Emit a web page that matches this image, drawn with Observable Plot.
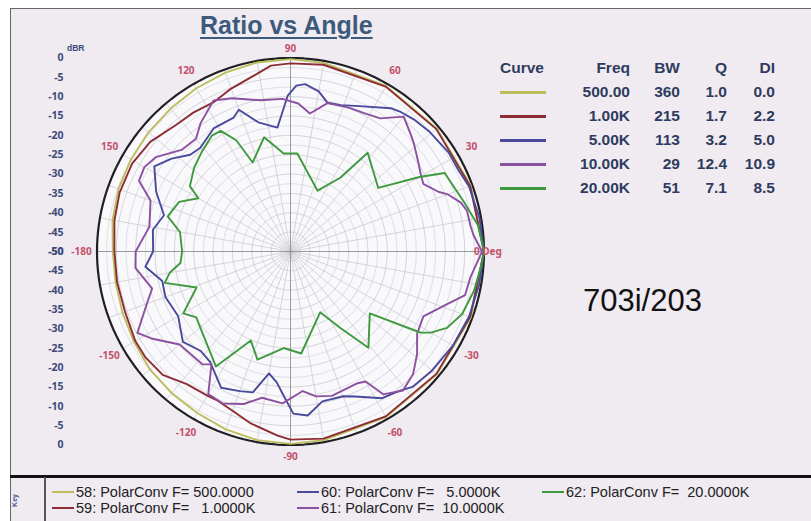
<!DOCTYPE html>
<html><head><meta charset="utf-8">
<script src="https://cdn.jsdelivr.net/npm/d3@7"></script>
<script src="https://cdn.jsdelivr.net/npm/@observablehq/plot@0.6"></script>
<style>
body{margin:0;background:#fff;font-family:"Liberation Sans",Arial,sans-serif;}
#wrap{position:relative;width:811px;height:521px;overflow:hidden;background:#fff}
.abs{position:absolute;white-space:pre}
</style></head><body>
<div id="wrap">
  <div class="abs" style="left:10px;top:8px;width:801px;height:513px;background:#efebf1;border-left:1.5px solid #666;border-top:1.5px solid #666;box-sizing:border-box"></div>
  <div id="chart" class="abs" style="left:0;top:0"></div>
  <div id="overlay"></div>
</div>
<script>
// ---------- data ----------
const angleLabelValues = [90, 60, 30, 0, -30, -60, -90, -120, -150, -180, 150, 120];
const angleLabelText   = ["90","60","30","0 Deg","-30","-60","-90","-120","-150","-180","150","120"];
const dbTicks = [0, -5, -10, -15, -20, -25, -30, -35, -40, -45, -50];

const curveFreq   = ["500.00", "1.00K", "5.00K", "10.00K", "20.00K"];
const curveBW     = ["360", "215", "113", "29", "51"];
const curveQ      = ["1.0", "1.7", "3.2", "12.4", "7.1"];
const curveDI     = ["0.0", "2.2", "5.0", "10.9", "8.5"];
const curveColors = ["#bdbd5e", "#8c2d36", "#4a4a9c", "#8c50a0", "#3f9a3f"];
const keyLabels = [
  "58: PolarConv F= 500.0000",
  "59: PolarConv F=   1.0000K",
  "60: PolarConv F=   5.0000K",
  "61: PolarConv F=  10.0000K",
  "62: PolarConv F=  20.0000K"
];

// 500 Hz
const ang500 = [-180,-170,-160,-150,-140,-130,-120,-110,-100,-90,-80,-60,-40,-20,0,20,40,60,80,90,100,110,120,130,140,150,160,170,180];
const db500  = [-4.1,-4.1,-3.8,-3.3,-2.6,-2.2,-1.8,-1.1,-0.5,-0.3,-0.5,-0.6,-0.6,-0.4,0,-0.4,-0.6,-0.6,-0.5,-0.3,-0.4,-0.8,-1.3,-1.8,-2.1,-2.4,-2.7,-3.3,-4.1];
// 1 kHz
const ang1k = [-180,-170,-160,-150,-144,-136,-128,-120,-116,-110,-103,-94,-90,-80,-60,-40,-20,0,20,40,60,80,90,96,103,110,117,125,132,142,151,161,170,180];
const db1k  = [-4.5,-4.5,-4.5,-3.7,-3.6,-4.1,-6.5,-7.0,-7.1,-6.2,-4.4,-2.3,-1.4,-0.9,-0.8,-0.8,-0.6,0,-0.6,-0.8,-0.8,-1.0,-1.4,-1.7,-3.9,-5.2,-6.6,-6.2,-5.9,-4.0,-3.2,-3.3,-3.8,-4.5];
// 5 kHz
const ang5k = [-180,-174,-167,-160,-150,-140,-132,-126,-117,-110,-105,-100,-96,-93,-89,-84,-78,-70,-66,-58,-52,-48,-40,-30,-20,-10,0,10,20,26,32,41,47,52,55,66,71,76,80,85,88,91,96,104,110,113,122,131,136,142,148,156,164,171,180];
const db5k  = [-14.5,-12.3,-16,-15.6,-16.5,-13.7,-15.4,-14.7,-10.5,-11.6,-12.3,-18,-16,-13,-8.1,-7.4,-10.4,-10.2,-9,-5.3,-4.3,-2.9,-2.2,-1.5,-0.9,-0.5,0,-0.4,-0.9,-1.8,-1.8,-2.6,-3.3,-4.1,-4.8,-8.8,-10,-10.4,-8,-6.6,-7.1,-9.7,-17.8,-15.6,-11,-12.4,-12.5,-14.5,-14,-11,-8.5,-12,-16,-14,-14.5];
// 10 kHz
const ang10k = [-180,-174,-165,-160,-152,-148,-140,-128,-125,-120,-114,-107,-101,-93,-85,-80,-74,-63,-60,-57,-51,-45,-39,-33,-26,-19,-14,-8,0,5,8,13,16,20,22,27,31,35,41,44,50,56,62,68,76,82,87,93,101,111,117,125,130,137,145,150,155,160,170,180];
const db10k  = [-10,-9.7,-13,-10.5,-5.2,-7.6,-12.6,-13,-14.4,-7.5,-7,-8.8,-11.5,-10.7,-13.8,-12,-11.2,-11.8,-11.2,-6,-3.8,-5.2,-7.9,-11,-11.8,-7.6,-3.5,-3,-0.5,-2.5,-3,-3.2,-4.2,-6.8,-8.8,-11.5,-10.8,-9.7,-7.7,-6.7,-4.5,-8.5,-9.5,-9.9,-10.5,-14,-11.7,-10.5,-10.2,-7.6,-6.2,-9.5,-12,-11.5,-7.5,-6.4,-6.8,-11.5,-13,-10];
// 20 kHz
const ang20k = [-180,-174,-170,-166,-159,-150,-145,-141,-123,-114,-107,-94,-84,-64,-57,-51,-38,-32,-30,-26,-20,-12,-5,0,8,16,27,30,36,52,56,66,86,94,103,113,116,120,124,132,139,147,150,156,164,170,180];
const db20k  = [-22,-21.4,-18.3,-16.5,-24,-18,-20.3,-19.7,-14.6,-24.8,-20.8,-25,-23.5,-32.5,-26.5,-18,-24,-10.5,-8.1,-5,-2.8,-1.5,-0.7,0,-1.1,-3.4,-5.3,-11.5,-22,-17.6,-27,-32.8,-24.6,-24.6,-19.7,-25,-18,-14,-13.8,-15.6,-17,-19,-22.5,-18.5,-17,-21,-22];

const curveAngles = [ang500, ang1k, ang5k, ang10k, ang20k];
const curveDbs    = [db500, db1k, db5k, db10k, db20k];

// ---------- geometry helpers (dB -> radius, -50 dB at centre) ----------
const rad = d => d + 50;
const px = (a, r) => r * Math.cos(a * Math.PI / 180);
const py = (a, r) => r * Math.sin(a * Math.PI / 180);

const circle = r => d3.range(0, 361, 2).map(a => ({x: px(a, r), y: py(a, r), ring: r}));
const ringRadii = d3.range(2.5, 50, 2.5);
const rings = ringRadii.flatMap(r => circle(r));
const spokes = d3.range(0, 360, 10).filter(a => a % 90 !== 0);
const axesSpokes = [0, 90];

const curveRows = curveAngles.map((angs, i) =>
  angs.map((a, j) => ({x: px(a, rad(curveDbs[i][j])), y: py(a, rad(curveDbs[i][j]))})));

const labelR = a => (a === 90 ? 52.4 : a === -90 ? 53 : 54);

const cx = 290, cy = 251, R = 193.5;

const chart = Plot.plot({
  width: 811, height: 476, margin: 0,
  style: {background: "transparent", overflow: "visible"},
  x: {domain: [-50, 50], range: [cx - R, cx + R], axis: null},
  y: {domain: [-50, 50], range: [cy + R, cy - R], axis: null},
  marks: [
    Plot.line(circle(50), {x: "x", y: "y", fill: "#f9f8fb", stroke: null}),
    Plot.line(rings, {x: "x", y: "y", z: "ring", stroke: d => (d.ring % 5 === 0 ? "#c3c3ca" : "#d4d4da"), strokeWidth: 0.7}),
    Plot.link(spokes, {x1: 0, y1: 0, x2: a => px(a, 50), y2: a => py(a, 50), stroke: "#c6c6cc", strokeWidth: 0.7}),
    Plot.link(axesSpokes, {x1: a => px(a + 180, 50), y1: a => py(a + 180, 50), x2: a => px(a, 50), y2: a => py(a, 50), stroke: "#8e8e96", strokeWidth: 0.9}),
    Plot.line(circle(50), {x: "x", y: "y", stroke: "#1f1f24", strokeWidth: 2.2}),
    ...curveRows.map((rows, i) => Plot.line(rows, {x: "x", y: "y", stroke: curveColors[i], strokeWidth: 1.9, strokeLinejoin: "round"})),
    Plot.text(angleLabelValues.map((a, i) => ({a, t: angleLabelText[i]})), {
      x: d => d.a === 0 ? px(0, 51) : px(d.a, labelR(d.a)),
      y: d => d.a === 0 ? 0 : py(d.a, labelR(d.a)),
      text: "t",
      textAnchor: d => d.a === 0 ? "start" : "middle",
      fill: "#c4506a", fontSize: 10, fontWeight: "bold"
    }),
    Plot.text(dbTicks.flatMap(d => [{v: rad(d), d}, {v: -rad(d), d}]), {
      frameAnchor: "left", y: "v", text: o => String(o.d), dx: 63, textAnchor: "end",
      fill: "#3e4a7a", fontSize: 10.5, fontWeight: "bold"
    })
  ]
});
document.getElementById("chart").appendChild(chart);

// ---------- overlay texts (title, table, key) ----------
const ov = document.getElementById("overlay");
function addText(txt, left, yc, fs, opts = {}) {
  const d = document.createElement("div");
  d.className = "abs";
  d.textContent = txt;
  d.style.fontSize = fs + "px";
  d.style.lineHeight = fs + "px";
  d.style.top = (yc - 0.49 * fs) + "px";
  if (opts.right !== undefined) {
    d.style.left = (opts.right - 200) + "px";
    d.style.width = "200px";
    d.style.textAlign = "right";
  } else {
    d.style.left = left + "px";
  }
  d.style.color = opts.color || "#222";
  d.style.fontWeight = opts.bold ? "bold" : "normal";
  if (opts.extra) Object.assign(d.style, opts.extra);
  ov.appendChild(d);
  return d;
}
function addLine(x1, x2, y, color, w) {
  const d = document.createElement("div");
  d.className = "abs";
  Object.assign(d.style, {left: x1 + "px", top: (y - w / 2) + "px", width: (x2 - x1) + "px", height: w + "px", background: color});
  ov.appendChild(d);
}

addText("Ratio vs Angle", 200, 25, 25, {bold: true, color: "#3b5a7c", extra: {textDecoration: "underline", textDecorationThickness: "2px", textUnderlineOffset: "3px"}});
addText("dBR", 67, 48, 8.5, {bold: true, color: "#3e4a7a"});

const tColor = "#2e3b5e";
const headY = 68, rowY0 = 92, rowStep = 24;
addText("Curve", 500, headY, 15.5, {bold: true, color: tColor});
addText("Freq", 0, headY, 15.5, {bold: true, color: tColor, right: 630});
addText("BW", 0, headY, 15.5, {bold: true, color: tColor, right: 680});
addText("Q", 0, headY, 15.5, {bold: true, color: tColor, right: 727});
addText("DI", 0, headY, 15.5, {bold: true, color: tColor, right: 775});
curveFreq.forEach((f, i) => {
  const y = rowY0 + i * rowStep;
  addLine(500, 546, y, curveColors[i], 3);
  addText(f, 0, y, 15.5, {bold: true, color: tColor, right: 630});
  addText(curveBW[i], 0, y, 15.5, {bold: true, color: tColor, right: 680});
  addText(curveQ[i], 0, y, 15.5, {bold: true, color: tColor, right: 727});
  addText(curveDI[i], 0, y, 15.5, {bold: true, color: tColor, right: 775});
});

addText("703i/203", 583, 300, 31, {color: "#111"});

// bottom key
addLine(10, 811, 476, "#111", 3);
const sep = document.createElement("div");
sep.className = "abs";
Object.assign(sep.style, {left: "44px", top: "477px", width: "1.5px", height: "44px", background: "#555"});
ov.appendChild(sep);
addText("Key", 8, 500, 7, {bold: true, color: "#4a5a9a", extra: {transform: "rotate(-90deg)", transformOrigin: "center"}});
const keyCols = [52, 297, 542];
const keyRows = [492, 508];
const keyPos = [[0, 0], [0, 1], [1, 0], [1, 1], [2, 0]];
keyLabels.forEach((lab, i) => {
  const [c, r] = keyPos[i];
  addLine(keyCols[c], keyCols[c] + 22, keyRows[r], curveColors[i], 1.8);
  addText(lab, keyCols[c] + 24, keyRows[r], 14.5, {color: "#222"});
});
</script>
</body></html>
